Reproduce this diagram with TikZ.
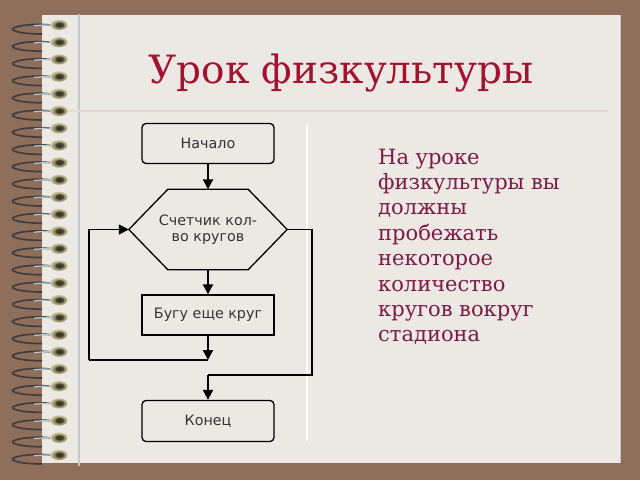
\documentclass[tikz,border=0pt]{standalone}
\usepackage{fontspec}
\setmainfont{DejaVu Serif}
\newfontfamily\chartfont{DejaVu Sans}
\usetikzlibrary{arrows.meta}
\definecolor{cBg}{HTML}{8F6E5A}
\definecolor{cPage}{HTML}{ECE8E4}
\definecolor{cTitle}{HTML}{A3122F}
\definecolor{cBody}{HTML}{7A1A45}
\definecolor{cRule}{HTML}{E3DCCB}
\definecolor{cMargin}{HTML}{C6C6CA}
\definecolor{cBead}{HTML}{2E2C1E}
\definecolor{cBeadHi}{HTML}{CFC69A}
\definecolor{cWire}{HTML}{3E3E42}
\definecolor{cWireHi}{HTML}{B4C8CE}
\tikzset{
  box/.style={draw=black, line width=1.3pt, fill=cPage, minimum width=132pt, minimum height=40pt,
    inner sep=0pt, text=black!80, font=\chartfont\fontsize{14.3}{16}\selectfont},
  termbox/.style={box, rounded corners=4pt},
  hexbox/.style={minimum width=158pt, minimum height=80pt, inner sep=0pt, align=center,
    text=black!80, font=\chartfont\fontsize{14.3}{16}\selectfont},
  hexline/.style={draw=black, line width=1.3pt},
  flow/.style={line width=2pt, -{Triangle[length=10pt,width=10pt]}},
  backline/.style={line width=1.4pt},
  titletext/.style={text=cTitle, font=\fontsize{39}{44}\selectfont, inner sep=0pt},
  bodytext/.style={text=cBody, font=\fontsize{21}{25}\selectfont, inner sep=0pt},
  wire/.style={cWire, line width=1.7pt},
  wirehi/.style={cWireHi, line width=1.2pt},
}
\begin{document}
\begin{tikzpicture}[x=1pt, y=-1pt]
\useasboundingbox (0,0) rectangle (640,480);
\fill[cBg] (0,0) rectangle (640,480);
% page of the notebook
\fill[cPage] (42,15) rectangle (620,463);
\draw[cPage!85!black, line width=0.6pt] (620,15) -- (620,463);
\draw[cMargin, line width=2pt] (79,14) -- (79,466);
\draw[cRule, line width=2pt] (42,111) -- (608,111);
\draw[white, line width=1.5pt] (307,124) -- (307,441);
% spiral binding
\foreach \i in {0,...,25}{
  \pgfmathsetmacro{\y}{25+17.2*\i}
  \draw[wire] (50,\y) .. controls (30,\y-2) and (9,\y+2) .. (13,\y+5) .. controls (17,\y+8) and (32,\y+9) .. (42,\y+9);
  \draw[wirehi] (52,\y) .. controls (46,\y-0.3) and (40,\y+0.2) .. (34,\y+0.8);
  \shade[inner color=cBead, outer color=cBeadHi] (59,\y) ellipse [x radius=8.5pt, y radius=5.2pt];
  \fill[cBead, opacity=0.6] (60,\y) ellipse [x radius=4.5pt, y radius=2.8pt];
}
% title
\node[titletext, anchor=base] (title) at (341,83) {Урок физкультуры};
% text on the right
\foreach \ln [count=\k from 0] in {На уроке, физкультуры вы, должны, пробежать, некоторое, количество, кругов вокруг, стадиона}{
  \node[bodytext, anchor=base west] (line\k) at (378,164+25.4*\k) {\ln};
}
% flowchart
\node[termbox] (start) at (208,143.5) {Начало};
\node[hexbox] (count) at (208,229.5) {Счетчик кол-\\во кругов};
\draw[hexline] (count.west) -- ([xshift=39pt]count.north west) -- ([xshift=-39pt]count.north east)
  -- (count.east) -- ([xshift=-39pt]count.south east) -- ([xshift=39pt]count.south west) -- cycle;
\node[box] (step) at (208,315) {Бугу еще круг};
\node[termbox, minimum height=41pt] (stop) at (208,421) {Конец};
\coordinate (join) at (208,360);
\coordinate (back) at (89,360);
\coordinate (exitR) at (312,375);
\coordinate (exitM) at (208,375);
\draw[flow] (start) -- (count.north);
\draw[flow] (count.south) -- (step.north);
\draw[flow] (step.south) -- (join);
\draw[backline] (join) -- (back);
\draw[flow, line width=1.4pt] (back) |- (count.west);
\draw[backline] (count.east) -| (exitR) -- (exitM);
\draw[flow] (exitM) -- (stop.north);
\end{tikzpicture}
\end{document}
